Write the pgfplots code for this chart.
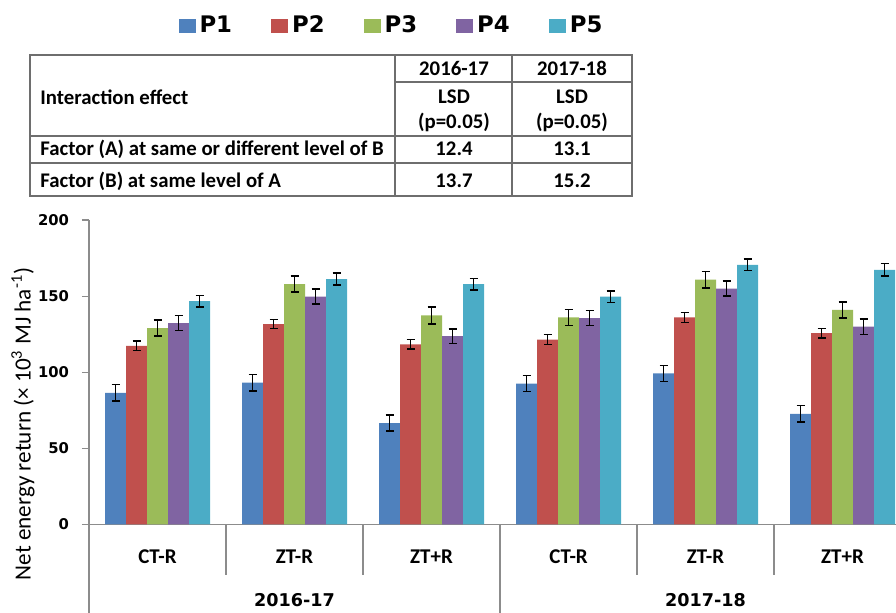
\documentclass[border=0pt]{standalone}
\usepackage{fontspec}
\setmainfont{Carlito}
\newfontfamily\dv{DejaVu Sans}
\usepackage{pgfplots}
\usepackage{pgfplotstable}
\pgfplotsset{compat=1.18}
\definecolor{cA}{HTML}{4F81BD}
\definecolor{cB}{HTML}{C0504D}
\definecolor{cC}{HTML}{9BBB59}
\definecolor{cD}{HTML}{8064A2}
\definecolor{cE}{HTML}{4BACC6}
\definecolor{axgray}{HTML}{8C8C8C}
\definecolor{tabgray}{HTML}{6E6E6E}
\pgfplotstableread{
x P1 e1 P2 e2 P3 e3 P4 e4 P5 e5
0 86.5 5.5 117.4 3.1 129.0 5.3 132.3 4.9 146.7 3.8
1 93.1 5.5 131.6 3.0 157.9 5.3 149.6 4.9 161.2 4.0
2 66.6 5.3 118.3 3.2 137.3 5.6 123.7 4.9 157.9 3.8
3 92.6 5.3 121.5 3.2 136.0 5.3 135.6 5.0 149.6 3.7
4 99.2 5.3 136.0 3.2 160.8 5.3 155.0 5.0 170.6 3.8
5 72.7 5.5 125.7 3.1 141.0 5.3 129.9 5.0 167.3 4.0
}\data
\pgfplotsset{
  eb/.style={error bars/.cd, y dir=both, y explicit,
    error bar style={black, line width=0.8pt},
    error mark options={rotate=90, black, mark size=2pt, line width=0.8pt}},
}
\begin{document}
\begin{tikzpicture}
\useasboundingbox (0,0) rectangle (448pt,-306.5pt);
% table
\begin{scope}[draw=tabgray, line width=0.6pt]
\draw (15pt,-27.5pt) rectangle (316pt,-98pt);
\draw (197.5pt,-27.5pt) -- (197.5pt,-98pt);
\draw (256pt,-27.5pt) -- (256pt,-98pt);
\draw (197.5pt,-41pt) -- (316pt,-41pt);
\draw (15pt,-68pt) -- (316pt,-68pt);
\draw (15pt,-81.5pt) -- (316pt,-81.5pt);
\end{scope}
\begin{scope}[font=\bfseries\fontsize{10.4}{12}\selectfont, inner sep=0pt]
\node[anchor=west] at (20pt,-48.5pt) {Interaction effect};
\node at (227pt,-34pt) {2016-17};
\node at (286pt,-34pt) {2017-18};
\node at (227pt,-48.5pt) {LSD};
\node at (286pt,-48.5pt) {LSD};
\node at (227pt,-61pt) {(p=0.05)};
\node at (286pt,-61pt) {(p=0.05)};
\node[anchor=west] at (20pt,-74.5pt) {Factor (A) at same or different level of B};
\node at (227pt,-74.5pt) {12.4};
\node at (286pt,-74.5pt) {13.1};
\node[anchor=west] at (20pt,-90.5pt) {Factor (B) at same level of A};
\node at (227pt,-90.5pt) {13.7};
\node at (286pt,-90.5pt) {15.2};
\end{scope}
\begin{axis}[
  at={(44.5pt,-262.25pt)}, anchor=south west,
  scale only axis, width=403.5pt, height=152.25pt,
  xmin=-0.5, xmax=5.39, ymin=0, ymax=200,
  clip=false,
  ybar=0pt, bar width=10.5pt,
  axis x line=bottom, axis y line=left,
  axis line style={draw=axgray, line width=0.6pt, -},
  tick align=outside,
  ytick={0,50,100,150,200},
  major tick length=3.5pt,
  ytick style={draw=axgray, line width=0.6pt},
  xtick={0,1,2,3,4,5},
  xticklabels={CT-R,ZT-R,ZT+R,CT-R,ZT-R,ZT+R},
  x tick style={draw=none},
  xticklabel style={font=\bfseries\fontsize{10.5}{12}\selectfont, yshift=-5.5pt},
  yticklabel style={font=\dv\bfseries\fontsize{7.4}{9}\selectfont, xshift=-3pt},
  /pgf/number format/assume math mode=true,
  ylabel={Net energy return (\texttimes{} 10\textsuperscript{3} MJ ha\textsuperscript{-1})},
  ylabel style={at={([xshift=-33pt]rel axis cs:0,0.33)}, anchor=center, font=\fontsize{11.6}{13}\selectfont},
  legend columns=5,
  legend style={draw=none, at={(rel axis cs:0.103,1.637)}, anchor=west,
    font=\dv\bfseries\fontsize{11.4}{13}\selectfont,
    /tikz/every even column/.append style={column sep=17.5pt}},
  legend image code/.code={\fill[#1,draw=none] (0pt,-3.5pt) rectangle (8.5pt,3.5pt);},
]
\addplot[fill=cA, draw=none, eb] table[x=x, y=P1, y error=e1]{\data};
\addplot[fill=cB, draw=none, eb] table[x=x, y=P2, y error=e2]{\data};
\addplot[fill=cC, draw=none, eb] table[x=x, y=P3, y error=e3]{\data};
\addplot[fill=cD, draw=none, eb] table[x=x, y=P4, y error=e4]{\data};
\addplot[fill=cE, draw=none, eb] table[x=x, y=P5, y error=e5]{\data};
\legend{P1,P2,P3,P4,P5}
\draw[axgray, line width=0.6pt] (axis cs:-0.5,0) -- ++(0pt,-45pt);
\draw[axgray, line width=0.6pt] (axis cs:2.5,0) -- ++(0pt,-45pt);
\draw[axgray, line width=0.6pt] (axis cs:0.5,0) -- ++(0pt,-25.5pt);
\draw[axgray, line width=0.6pt] (axis cs:1.5,0) -- ++(0pt,-25.5pt);
\draw[axgray, line width=0.6pt] (axis cs:3.5,0) -- ++(0pt,-25.5pt);
\draw[axgray, line width=0.6pt] (axis cs:4.5,0) -- ++(0pt,-25.5pt);
\node[font=\dv\bfseries\fontsize{8.8}{10}\selectfont] at (axis cs:1,0) [yshift=-38pt] {2016-17};
\node[font=\dv\bfseries\fontsize{8.8}{10}\selectfont] at (axis cs:4,0) [yshift=-38pt] {2017-18};
\end{axis}
\end{tikzpicture}
\end{document}
